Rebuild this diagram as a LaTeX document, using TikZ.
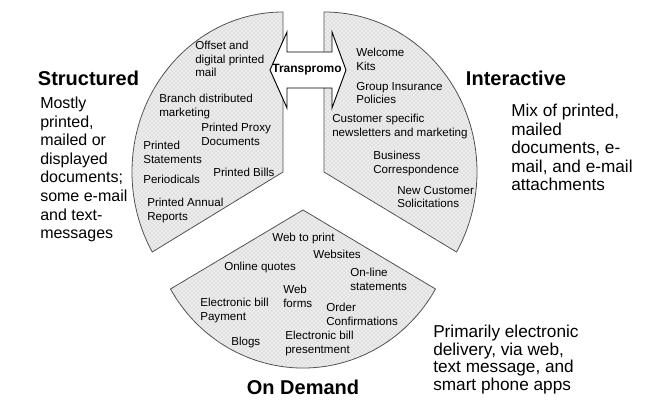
\documentclass[tikz,border=0pt]{standalone}
\usepackage{fontspec}
\setmainfont{Liberation Sans}
\usetikzlibrary{patterns}
\begin{document}
\begin{tikzpicture}[x=0.75pt,y=0.75pt,
  sector/.style={draw=black!70, line width=0.6pt, fill=black!7,
    postaction={pattern=crosshatch dots, pattern color=black!28}},
  item/.style={anchor=north west, inner sep=0pt, align=left,
    font=\fontsize{8.7}{10.3}\selectfont},
  heading/.style={inner sep=0pt, font=\fontsize{15}{18}\selectfont\bfseries},
  desc/.style={anchor=north west, inner sep=0pt, align=left},
]
\useasboundingbox (0,0) rectangle (647,403);

% three exploded pie sectors
\path[sector] (283,231) -- ++(0,160)
  arc[start angle=90, end angle=210, x radius=151, y radius=160] -- cycle;
\path[sector] (324,231) -- ++(0,160)
  arc[start angle=90, end angle=-30, x radius=153, y radius=160] -- cycle;
\path[sector] (303,193) -- ++(210:153 and 158)
  arc[start angle=210, end angle=330, x radius=153, y radius=158] -- cycle;

% double-headed block arrow between the upper sectors
\draw[fill=white, line width=0.7pt, line join=miter]
  (270,333) -- (287,371) -- (287,351) -- (332,351) -- (332,371) -- (346,333)
  -- (332,295) -- (332,315) -- (287,315) -- (287,295) -- cycle;
\node[font=\fontsize{9}{10}\selectfont\bfseries, inner sep=0pt] (transpromo) at (307,333) {Transpromo};

% structured documents
\node[item] (offset) at (195,362.3) {Offset and\\digital printed\\mail};
\node[item] (branch) at (159,309.3) {Branch distributed\\marketing};
\node[item] (proxy) at (201,280.3) {Printed Proxy\\Documents};
\node[item] (statements) at (143,262.3) {Printed\\Statements};
\node[item] (periodicals) at (143,228.3) {Periodicals};
\node[item] (bills) at (213,235.3) {Printed Bills};
\node[item] (annual) at (147,205.3) {Printed Annual\\Reports};

% interactive documents
\node[item] (welcome) at (356,355.3) {Welcome\\Kits};
\node[item] (group) at (356,321.3) {Group Insurance\\Policies};
\node[item] (customer) at (332,289.3) {Customer specific\\newsletters and marketing};
\node[item] (business) at (373,252.3) {Business\\Correspondence};
\node[item] (newcust) at (397,217.3) {New Customer\\Solicitations};

% on-demand documents
\node[item] (webprint) at (272,170.3) {Web to print};
\node[item] (websites) at (313,153.3) {Websites};
\node[item] (quotes) at (224,141.3) {Online quotes};
\node[item] (onlinestmt) at (350,135.3) {On-line\\statements};
\node[item] (webforms) at (283,118.3) {Web\\forms};
\node[item] (billpay) at (200,105.3) {Electronic bill\\Payment};
\node[item] (order) at (326,100.3) {Order\\Confirmations};
\node[item] (blogs) at (231,66.3) {Blogs};
\node[item] (billpres) at (285,72.3) {Electronic bill\\presentment};

% category headings and descriptions
\node[heading] (structured) at (88.5,325) {Structured};
\node[desc, font=\fontsize{12}{13.9}\selectfont] (structdesc) at (40,306)
  {Mostly\\printed,\\mailed or\\displayed\\documents;\\some e-mail\\and text-\\messages};
\node[heading] (interactive) at (516,325) {Interactive};
\node[desc, font=\fontsize{12.9}{13.9}\selectfont] (interdesc) at (511,299)
  {Mix of printed,\\mailed\\documents, e-\\mail, and e-mail\\attachments};
\node[heading] (ondemand) at (303,16) {On Demand};
\node[desc, font=\fontsize{12.9}{13.1}\selectfont] (demanddesc) at (433,78)
  {Primarily electronic\\delivery, via web,\\text message, and\\smart phone apps};
\end{tikzpicture}
\end{document}
